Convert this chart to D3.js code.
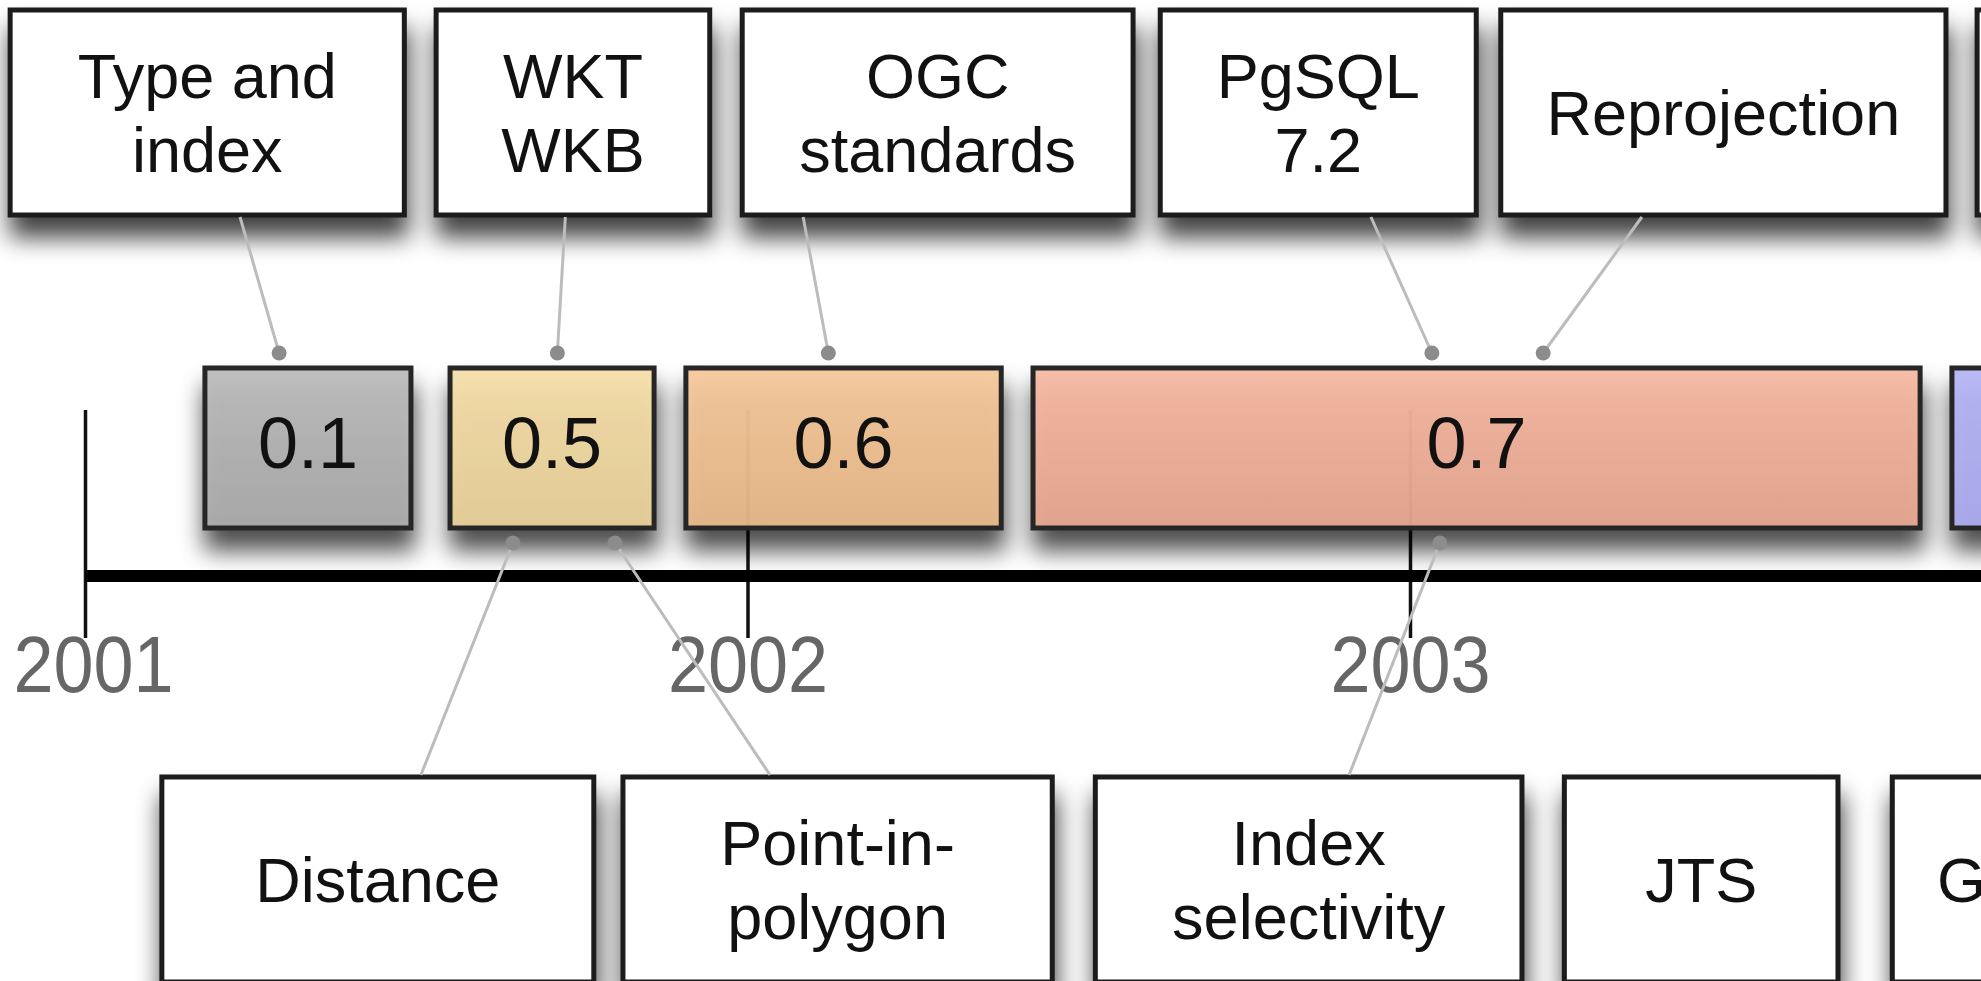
<!DOCTYPE html>
<html>
<head>
<meta charset="utf-8">
<script src="https://cdn.jsdelivr.net/npm/d3@7"></script>
<style>
  body { margin: 0; background: #fff; overflow: hidden; }
  text { font-family: "Liberation Sans", Arial, sans-serif; }
</style>
</head>
<body>
<div id="container"></div>
<script>
'use strict'
// Timeline data, positions read as decimal years
const years = [2001, 2002, 2003];

const versions     = ["0.1", "0.5", "0.6", "0.7", "0.8"];
const versionStart = [2001.181, 2001.551, 2001.907, 2002.431, 2003.818];
const versionEnd   = [2001.492, 2001.859, 2002.383, 2003.770, 2004.600];

// features above the bar
const topLabels = [["Type and", "index"], ["WKT", "WKB"], ["OGC", "standards"], ["PgSQL", "7.2"], ["Reprojection"], []];
const topFrom   = [2000.887, 2001.530, 2001.992, 2002.623, 2003.137, 2003.856];
const topTo     = [2001.482, 2001.943, 2002.582, 2003.100, 2003.809, 2004.400];
const topLink   = [2001.234, 2001.725, 2002.084, 2002.941, 2003.350, null];
const topDot    = [2001.293, 2001.713, 2002.122, 2003.033, 2003.201, null];

// features below the bar
const bottomLabels = [["Distance"], ["Point-in-", "polygon"], ["Index", "selectivity"], ["JTS"], ["GEOS"]];
const bottomFrom   = [2001.116, 2001.812, 2002.525, 2003.233, 2003.728];
const bottomTo     = [2001.768, 2002.460, 2003.169, 2003.646, 2004.138];
const bottomLink   = [2001.507, 2002.034, 2002.908, null, null];
const bottomDot    = [2001.646, 2001.800, 2003.045, null, null];

const w = 1981;
const h = 981;
const svg = d3.select("#container")
              .append("svg")
              .attr("width", w)
              .attr("height", h);

// colours: [top, bottom] of each bar gradient
const colors = [["#bbbbbb", "#a9a9a9"], ["#f6dea9", "#e5cd96"], ["#f6c89b", "#e5b687"],
                ["#f6b9a2", "#e4a48e"], ["#b5b5f5", "#a9a9ec"]];

//Defs: shadow + gradients
const defs = svg.append("defs");
const shadow = defs.append("filter").attr("id", "shadow")
                   .attr("filterUnits", "userSpaceOnUse")
                   .attr("x", -200).attr("y", -200).attr("width", 2600).attr("height", 1500);
shadow.append("feGaussianBlur").attr("in", "SourceAlpha").attr("stdDeviation", 12);
shadow.append("feOffset").attr("dx", 2).attr("dy", 20).attr("result", "off");
shadow.append("feComponentTransfer").attr("result", "soft")
      .append("feFuncA").attr("type", "linear").attr("slope", 0.75);
const merge = shadow.append("feMerge");
merge.append("feMergeNode").attr("in", "soft");
merge.append("feMergeNode").attr("in", "SourceGraphic");

colors.forEach(function(c, i) {
    const g = defs.append("linearGradient").attr("id", "grad" + i)
                  .attr("x1", 0).attr("x2", 0).attr("y1", 0).attr("y2", 1);
    g.append("stop").attr("offset", "0%").attr("stop-color", c[0]);
    g.append("stop").attr("offset", "100%").attr("stop-color", c[1]);
});

//Scales
const xScale = d3.scaleLinear()
                 .domain([2001, 2003])
                 .range([85, 1410]);

// vertical layout
const boxTop = 10, boxH = 205;
const barTop = 368, barH = 160;
const axisY = 576;
const lowTop = 777;

//Axis (ticks + labels)
const xAxis = d3.axisBottom(xScale).tickValues(years).tickFormat(d3.format("d"));
const gAxis = svg.append("g").attr("transform", "translate(0," + axisY + ")").call(xAxis);
gAxis.select(".domain").remove();
gAxis.selectAll(".tick line").attr("y1", -166).attr("y2", 62)
     .attr("stroke", "#111").attr("stroke-width", 3.5);
// narrow-looking year labels
gAxis.selectAll(".tick text").attr("y", 116).attr("dy", 0)
     .attr("fill", "#666")
     .attr("transform", (d, i) => i === 0 ? "translate(8,0) scale(0.9,1)" : "scale(0.9,1)")
     .style("font-size", "80px");

svg.append("line")
   .attr("x1", xScale(2001)).attr("x2", xScale(2004.6))
   .attr("y1", axisY).attr("y2", axisY)
   .attr("stroke", "#000").attr("stroke-width", 12);

//Version bars
const gBars = svg.append("g").attr("filter", "url(#shadow)");
gBars.selectAll("rect")
     .data(versions)
     .enter()
     .append("rect")
     .attr("x", (d, i) => xScale(versionStart[i]))
     .attr("y", barTop)
     .attr("width", (d, i) => xScale(versionEnd[i]) - xScale(versionStart[i]))
     .attr("height", barH)
     .attr("fill", (d, i) => "url(#grad" + i + ")")
     .attr("fill-opacity", 0.93)
     .attr("stroke", "#262626").attr("stroke-width", 5);

// only labels whose bar centre is on the page
svg.selectAll(".vlabel")
   .data(versions.filter((d, i) => (xScale(versionStart[i]) + xScale(versionEnd[i])) / 2 < w))
   .enter()
   .append("text").attr("class", "vlabel")
   .text(d => d)
   .attr("x", (d, i) => (xScale(versionStart[i]) + xScale(versionEnd[i])) / 2)
   .attr("y", barTop + barH / 2 + 20)
   .attr("text-anchor", "middle")
   .attr("fill", "#111")
   .style("font-size", "72px");

//Feature boxes
function drawBoxes(labels, from, to, y0, cls) {
    const g = svg.append("g").attr("filter", "url(#shadow)");
    g.selectAll("rect")
     .data(labels)
     .enter()
     .append("rect")
     .attr("x", (d, i) => xScale(from[i]))
     .attr("y", y0)
     .attr("width", (d, i) => xScale(to[i]) - xScale(from[i]))
     .attr("height", boxH)
     .attr("fill", "#fff")
     .attr("stroke", "#1c1c1c").attr("stroke-width", 5);

    const lineH = 74;
    const t = svg.selectAll("." + cls)
                 .data(labels)
                 .enter()
                 .append("text").attr("class", cls)
                 .attr("text-anchor", "middle")
                 .attr("fill", "#111")
                 .style("font-size", "63px");
    t.each(function(d, i) {
        const cx = (xScale(from[i]) + xScale(to[i])) / 2;
        const cy = y0 + boxH / 2;
        const first = cy - (d.length - 1) * lineH / 2 + 22;
        d.forEach(function(line, k) {
            d3.select(this).append("tspan")
              .attr("x", cx).attr("y", first + k * lineH)
              .text(line);
        }, this);
    });
}
drawBoxes(topLabels, topFrom, topTo, boxTop, "tlabel");
drawBoxes(bottomLabels, bottomFrom, bottomTo, lowTop, "blabel");

//Connectors
const dotUp = barTop - 15;
const dotDown = barTop + barH + 15;
function drawLinks(link, dot, yBox, yDot) {
    link.forEach(function(l, i) {
        if (l === null) return;
        svg.append("line")
           .attr("x1", xScale(l)).attr("y1", yBox)
           .attr("x2", xScale(dot[i])).attr("y2", yDot)
           .attr("stroke", "#bcbcbc").attr("stroke-width", 3);
        svg.append("circle")
           .attr("cx", xScale(dot[i])).attr("cy", yDot).attr("r", 7.5)
           .attr("fill", "#8c8c8c");
    });
}
drawLinks(topLink, topDot, boxTop + boxH + 2, dotUp);
drawLinks(bottomLink, bottomDot, lowTop - 2, dotDown);
</script>
</body>
</html>
